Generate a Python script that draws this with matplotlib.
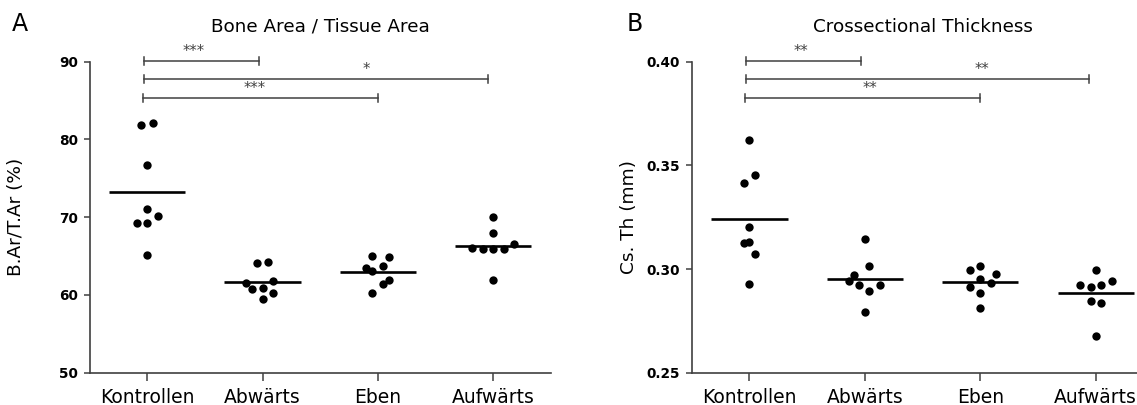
import numpy as np
import matplotlib
matplotlib.use("Agg")
import matplotlib.pyplot as plt

plt.rcParams['font.family'] = ['DejaVu Sans']

groups = ["Kontrollen", "Abwärts", "Eben", "Aufwärts"]

# Bone Area / Tissue Area (%)
bvta_kontrollen = [81.9, 82.1, 76.7, 71.05, 70.2, 69.2, 69.2, 65.2]
bvta_abwaerts = [64.07, 64.2, 61.58, 61.8, 60.73, 60.86, 60.2, 59.48]
bvta_eben = [65.05, 64.84, 63.72, 63.5, 63.12, 61.92, 61.37, 60.2]
bvta_aufwaerts = [69.99, 67.93, 66.08, 65.87, 65.87, 65.91, 66.55, 61.92]

# Crossectional Thickness (mm)
csth_kontrollen = [0.3622, 0.3453, 0.3413, 0.3204, 0.3124, 0.3132, 0.3073, 0.2926]
csth_abwaerts = [0.3145, 0.3015, 0.2970, 0.2944, 0.2923, 0.2923, 0.2894, 0.2794]
csth_eben = [0.2995, 0.3015, 0.2976, 0.2953, 0.2934, 0.2915, 0.2883, 0.2813]
csth_aufwaerts = [0.2995, 0.2923, 0.2912, 0.2923, 0.2944, 0.2847, 0.2835, 0.2677]

# horizontal scatter of the dots (fraction of category spacing)
jit_a = [
    [-0.05, 0.05, 0.0, 0.0, 0.095, -0.09, 0.0, 0.0],
    [-0.052, 0.043, -0.145, 0.087, -0.095, 0.0, 0.087, 0.0],
    [-0.049, 0.092, 0.044, -0.1, -0.049, 0.092, 0.044, -0.049],
    [0.0, 0.0, -0.182, -0.092, 0.0, 0.093, 0.182, 0.0],
]
jit_b = [
    [0.0, 0.049, -0.043, 0.0, -0.043, 0.0, 0.049, 0.0],
    [0.0, 0.038, -0.098, -0.141, -0.055, 0.13, 0.038, 0.0],
    [-0.087, 0.0, 0.139, 0.0, 0.092, -0.087, 0.0, 0.0],
    [0.0, -0.136, -0.043, 0.046, 0.139, -0.043, 0.046, 0.0],
]

# significance brackets: (start, end, height, label, label x)
sig_a = [(-0.03, 0.966, 90.13, "***", 0.40),
         (-0.03, 2.95, 87.74, "*", 1.90),
         (-0.04, 2.0, 85.33, "***", 0.93)]
sig_b = [(-0.03, 0.967, 0.4005, "**", 0.45),
         (-0.03, 2.94, 0.3915, "**", 2.01),
         (-0.04, 2.0, 0.3825, "**", 1.04)]

GRAY = '#404040'

fig = plt.figure(figsize=(11.37, 4.05), dpi=100)
ax1 = fig.add_axes([89.5 / 1137, 32.3 / 405, 461.5 / 1137, 311 / 405])
ax2 = fig.add_axes([691.7 / 1137, 32.3 / 405, 461.8 / 1137, 311 / 405])


def draw_panel(ax, data, jit, sig, ylim, yticks, ytl, ylabel, title, lab_x, cap):
    for i, vals in enumerate(data):
        x = i + np.array(jit[i])
        ax.plot(x, vals, 'o', color='black', markersize=6.0, zorder=3,
                markeredgewidth=0)
        ax.hlines(np.mean(vals), i - 0.33, i + 0.33, color='black',
                  linewidth=1.9, zorder=2)
    for x0, x1, h, lab, tx in sig:
        ax.plot([x0, x1], [h, h], color=GRAY, lw=1.1, clip_on=False)
        ax.plot([x0, x0], [h - cap, h + cap], color=GRAY, lw=1.1, clip_on=False)
        ax.plot([x1, x1], [h - cap, h + cap], color=GRAY, lw=1.1, clip_on=False)
        ax.annotate(lab, xy=(tx, h), xytext=(0, 1.5), textcoords='offset points',
                    ha='center', va='bottom', fontsize=10.5, color=GRAY,
                    annotation_clip=False)
    ax.set_xlim(-0.5, 3.5)
    ax.set_ylim(*ylim)
    ax.set_yticks(yticks)
    ax.set_yticklabels(ytl, fontweight='bold', fontsize=9.8)
    ax.set_xticks(range(len(groups)))
    ax.set_xticklabels(groups, fontsize=13.5)
    for s in ['top', 'right']:
        ax.spines[s].set_visible(False)
    for s in ['left', 'bottom']:
        ax.spines[s].set_color(GRAY)
        ax.spines[s].set_linewidth(1.2)
    ax.tick_params(axis='x', direction='out', length=5.8, width=1.1,
                   color=GRAY, pad=5.0)
    ax.tick_params(axis='y', direction='out', length=4.3, width=1.1,
                   color=GRAY, pad=4)
    ax.set_ylabel(ylabel, fontsize=13.3)
    ax.yaxis.set_label_coords(lab_x, 0.5)
    ax.text(0.5, 1.0 + 35 / 311, title, transform=ax.transAxes, ha='center',
            va='center', fontsize=13.2)


draw_panel(ax1, [bvta_kontrollen, bvta_abwaerts, bvta_eben, bvta_aufwaerts],
           jit_a, sig_a, (50, 90), [50, 60, 70, 80, 90],
           ['50', '60', '70', '80', '90'], 'B.Ar/T.Ar (%)',
           'Bone Area / Tissue Area', -0.14, 0.5)
draw_panel(ax2, [csth_kontrollen, csth_abwaerts, csth_eben, csth_aufwaerts],
           jit_b, sig_b, (0.25, 0.40), [0.25, 0.30, 0.35, 0.40],
           ['0.25', '0.30', '0.35', '0.40'], 'Cs. Th (mm)',
           'Crossectional Thickness', -0.116, 0.0019)

fig.text(20 / 1137, 1 - 24 / 405, 'A', ha='center', va='center', fontsize=17)
fig.text(635 / 1137, 1 - 24 / 405, 'B', ha='center', va='center', fontsize=17)

fig.savefig('out.png', dpi=100)
